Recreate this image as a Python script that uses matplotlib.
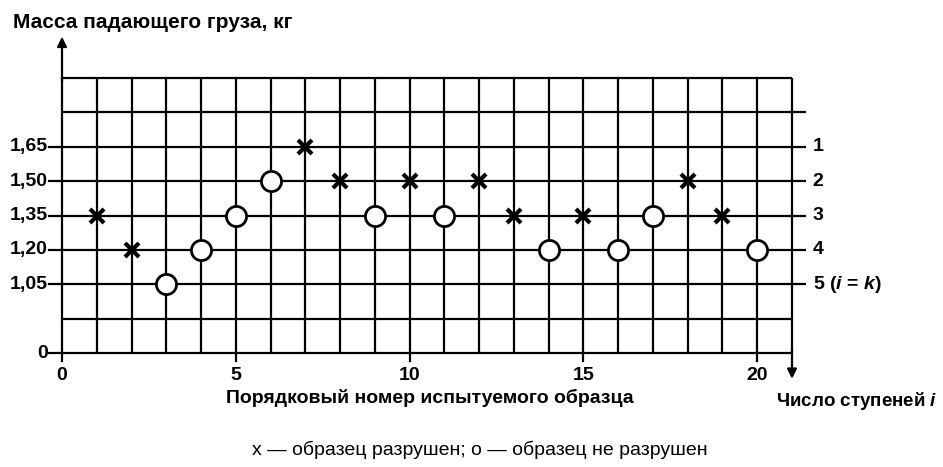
import matplotlib
matplotlib.use("Agg")
import matplotlib.pyplot as plt

# Data
specimen = list(range(1, 21))
mass_label = ["1,35", "1,20", "1,05", "1,20", "1,35", "1,50", "1,65", "1,50", "1,35", "1,50",
              "1,35", "1,50", "1,35", "1,20", "1,35", "1,20", "1,35", "1,50", "1,35", "1,20"]
broken = [True, True, False, False, False, False, True, True, False, True,
          False, True, True, False, True, False, False, True, True, False]
level_labels = ["0", "1,05", "1,20", "1,35", "1,50", "1,65"]
level_pos = [0, 2, 3, 4, 5, 6]
step_labels = ["1", "2", "3", "4", "5 ($\\mathbf{\\it{i}}$ = $\\mathbf{\\it{k}}$)"]
step_pos = [6, 5, 4, 3, 2]
xtick_vals = [0, 5, 10, 15, 20]

plt.rcParams['font.family'] = ['Liberation Sans', 'DejaVu Sans']
plt.rcParams['mathtext.fontset'] = 'custom'
plt.rcParams['mathtext.it'] = 'Liberation Sans:italic:bold'
plt.rcParams['mathtext.bf'] = 'Liberation Sans:bold'

W, H = 943, 467
fig = plt.figure(figsize=(W / 100, H / 100), dpi=100)
x0, x1 = 62, 792
y0, y1 = 353, 78
ax = fig.add_axes([x0 / W, 1 - y0 / H, (x1 - x0) / W, (y0 - y1) / H])
ax.set_xlim(0, 21)
ax.set_ylim(0, 8)
ax.axis('off')

lw = 1.6
k = 'black'
fs = 14
# vertical grid lines
for xv in range(0, 22):
    ax.plot([xv, xv], [0, 8], color=k, lw=lw, clip_on=False, solid_capstyle='butt')
# horizontal grid lines
for yv in range(0, 9):
    xe = 21.4 if (yv in step_pos or yv == 7) else 21
    ax.plot([0, xe], [yv, yv], color=k, lw=lw, clip_on=False, solid_capstyle='butt')

# left axis arrow
ax.annotate('', xy=(0, 9.2), xytext=(0, 7.9),
            arrowprops=dict(arrowstyle='-|>', color=k, lw=lw, mutation_scale=14,
                            shrinkA=0, shrinkB=0), annotation_clip=False)
# right down arrow
ax.annotate('', xy=(21, -0.75), xytext=(21, 0.1),
            arrowprops=dict(arrowstyle='-|>', color=k, lw=lw, mutation_scale=14,
                            shrinkA=0, shrinkB=0), annotation_clip=False)

# left ticks and labels
for p, lab in zip(level_pos, level_labels):
    ax.plot([-0.37, 0], [p, p], color=k, lw=lw, clip_on=False)
    ax.text(-0.4, p, lab, ha='right', va='center', fontsize=fs, fontweight='bold')

# bottom ticks and labels
for xv in xtick_vals:
    ax.plot([xv, xv], [0, -0.22], color=k, lw=lw, clip_on=False)
    ax.text(xv, -0.4, str(xv), ha='center', va='top', fontsize=fs, fontweight='bold')

# right labels
for p, lab in zip(step_pos, step_labels):
    ax.text(21.6, p, lab, ha='left', va='center', fontsize=fs, fontweight='bold')

# data markers
lvl = {lab: p for p, lab in zip(level_pos, level_labels)}
for xs, m, b in zip(specimen, mass_label, broken):
    yv = lvl[m]
    if b:
        ax.plot(xs, yv, marker='x', ms=10, mew=3, color=k, clip_on=False, zorder=5)
    else:
        ax.plot(xs, yv, marker='o', ms=14.5, mew=2, mfc='white', mec=k, clip_on=False, zorder=5)

# titles
fig.text(13 / W, 1 - 28 / H, "Масса падающего груза, кг", ha='left', va='baseline',
         fontsize=15, fontweight='bold')
fig.text(430 / W, 1 - 403 / H, "Порядковый номер испытуемого образца", ha='center', va='baseline',
         fontsize=14, fontweight='bold')
fig.text(938 / W, 1 - 406 / H, "Число ступеней $\\mathbf{\\it{i}}$", ha='right', va='baseline',
         fontsize=13.5, fontweight='bold')
fig.text(480 / W, 1 - 455 / H, "х — образец разрушен; о — образец не разрушен", ha='center',
         va='baseline', fontsize=14)

fig.savefig("out.png", dpi=100, facecolor='white')
